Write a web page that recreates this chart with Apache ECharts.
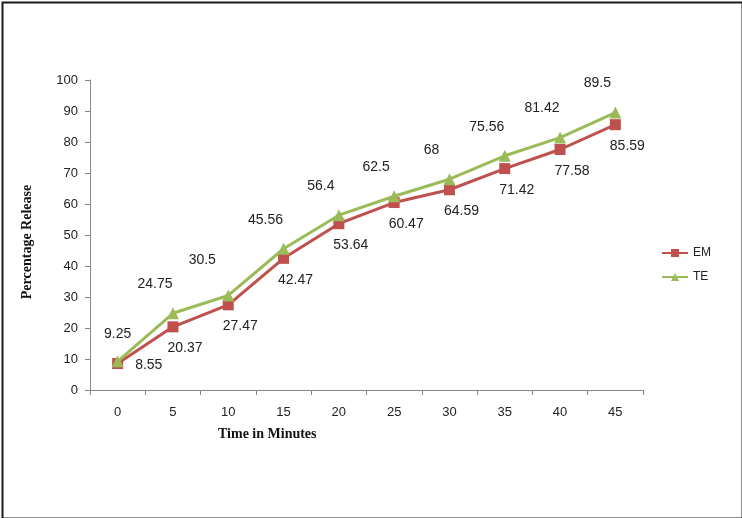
<!DOCTYPE html>
<html>
<head>
<meta charset="utf-8">
<script src="https://cdn.jsdelivr.net/npm/echarts@6/dist/echarts.min.js"></script>
<style>
html,body{margin:0;padding:0;background:#fff;}
#chart{width:742px;height:518px;}
</style>
</head>
<body>
<div id="chart"></div>
<script>
const categories = ['0','5','10','15','20','25','30','35','40','45'];
const emValues = [8.55, 20.37, 27.47, 42.47, 53.64, 60.47, 64.59, 71.42, 77.58, 85.59];
const teValues = [9.25, 24.75, 30.5, 45.56, 56.4, 62.5, 68, 75.56, 81.42, 89.5];
const seriesNames = ['EM', 'TE'];

// label placement overrides (style only), keyed by point index
const emLabelOverride = {0: {position: 'right', distance: 12, offset: [0, 2]}};
const teLabelOverride = {0: {position: 'top', distance: 14, offset: [0, 0]}, 2: {offset: [-26, -12]}};

function withLabels(values, overrides) {
  return values.map((v, i) => overrides[i] ? {value: v, label: overrides[i]} : v);
}

const chart = echarts.init(document.getElementById('chart'), null, {renderer: 'canvas'});
const tickFont = {fontFamily: 'Liberation Sans, Arial, sans-serif', fontSize: 13, color: '#222'};
const dataFont = {fontFamily: 'Liberation Sans, Arial, sans-serif', fontSize: 14, color: '#222'};
chart.setOption({
  animation: false,
  backgroundColor: '#fff',
  grid: {left: 90, right: 99, top: 80, bottom: 128, containLabel: false},
  legend: {
    orient: 'vertical',
    left: 656, top: 242,
    itemWidth: 26, itemHeight: 10, itemGap: 12,
    textStyle: {fontFamily: 'Liberation Sans, Arial, sans-serif', fontSize: 12, color: '#222'},
    data: seriesNames
  },
  xAxis: {
    type: 'category',
    data: categories,
    boundaryGap: true,
    axisLine: {lineStyle: {color: '#868686', width: 1}},
    axisTick: {show: true, alignWithLabel: false, length: 5, lineStyle: {color: '#868686'}},
    axisLabel: Object.assign({margin: 16}, tickFont),
    splitLine: {show: false}
  },
  yAxis: {
    type: 'value',
    min: 0, max: 100, interval: 10,
    name: 'Percentage Release',
    nameLocation: 'middle',
    nameRotate: 90,
    nameGap: 56,
    nameTextStyle: {fontFamily: 'Liberation Serif, Times New Roman, serif', fontWeight: 'bold', fontSize: 14, color: '#111', padding: [0, 14, 0, 0]},
    axisLine: {show: true, lineStyle: {color: '#868686', width: 1}},
    axisTick: {show: true, length: 5, lineStyle: {color: '#868686'}},
    axisLabel: Object.assign({margin: 12}, tickFont),
    splitLine: {show: false}
  },
  graphic: [
    {type: 'rect', left: 0, top: 0, shape: {x: 1, y: 1, width: 740, height: 516}, style: {fill: 'none', stroke: '#1a1a1a', lineWidth: 2}},
    {type: 'text', left: 218, top: 427, style: {text: 'Time in Minutes', font: 'bold 14px "Liberation Serif", "Times New Roman", serif', fill: '#111'}}
  ],
  series: [
    {
      name: seriesNames[0],
      type: 'line',
      data: withLabels(emValues, emLabelOverride),
      symbol: 'rect',
      symbolSize: 11,
      color: '#C0504D',
      lineStyle: {width: 3, color: '#C0504D'},
      itemStyle: {color: '#C0504D'},
      label: Object.assign({show: true, position: 'bottom', distance: 7, offset: [12, 2]}, dataFont),
      z: 2
    },
    {
      name: seriesNames[1],
      type: 'line',
      data: withLabels(teValues, teLabelOverride),
      symbol: 'triangle',
      symbolSize: 12,
      color: '#9BBB59',
      lineStyle: {width: 3, color: '#9BBB59'},
      itemStyle: {color: '#9BBB59'},
      label: Object.assign({show: true, position: 'top', distance: 10, offset: [-18, -6]}, dataFont),
      z: 3
    }
  ]
});
</script>
</body>
</html>
